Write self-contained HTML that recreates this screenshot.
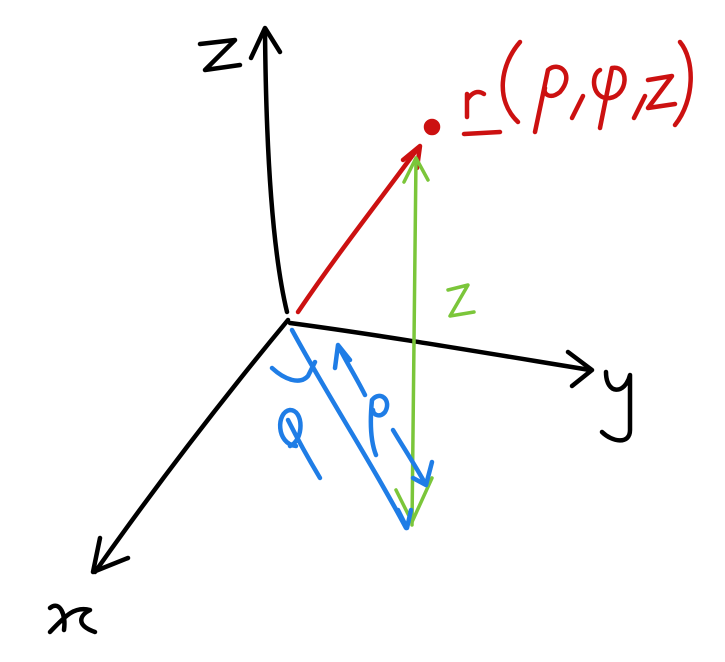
<!DOCTYPE html>
<html><head><meta charset="utf-8"><style>
html,body{margin:0;padding:0;background:#fff;width:725px;height:662px;overflow:hidden}
svg{display:block}
text{font-family:"Liberation Sans",sans-serif}
</style></head><body>
<svg width="725" height="662" viewBox="0 0 725 662" fill="none" stroke-linecap="round" stroke-linejoin="round">
<g stroke="#000" stroke-width="4.5">
<path d="M287,312 C272,250 266,150 265,30"/>
<path d="M251,58 L265,28 L280,52"/>
<path d="M290,323 C380,335 480,352 590,370"/>
<path d="M568,352 L592,370 L572,386"/>
<path d="M288,320 C230,390 160,480 95,572"/>
<path d="M100,538 L93,572 L128,558"/>
<path d="M200,44 L235,40 L205,70 L240,65"/>
<path d="M606,372 C606,395 625,395 630,375 L630,430 C630,445 612,442 602,432"/>
<path d="M50,608 C60,600 66,615 64,630 M50,632 C66,615 75,606 90,610 C80,615 75,625 95,632"/>
</g>
<g stroke="#cc1111" stroke-width="4.5">
<path d="M298,312 C340,250 380,200 418,148"/>
<path d="M403,160 L420,146 L417,168"/>
<circle cx="432" cy="127" r="6" fill="#cc1111"/>
<path d="M467,117 L467,94 M467,100 C472,92 478,90 484,94"/>
<path d="M464,134 L500,132"/>
<path d="M520,42 C500,65 495,100 518,122"/>
<path d="M535,132 L548,70 C560,60 575,75 560,92 C550,100 543,94 545,88"/>
<path d="M583,96 L572,118"/>
<path d="M600,70 C590,75 592,100 610,98 C628,95 630,65 612,68 L600,128"/>
<path d="M645,96 L634,118"/>
<path d="M648,80 L672,76 L648,108 L675,104"/>
<path d="M680,42 C695,60 695,100 675,125"/>
</g>
<g stroke="#7bc63a" stroke-width="3.5">
<path d="M416,160 C414,280 414,400 412,525"/>
<path d="M404,182 L416,158 L428,180"/>
<path d="M396,490 L412,522 L432,478"/>
<path d="M448,290 L468,285 L450,316 L474,312"/>
</g>
<g stroke="#1f7de6" stroke-width="4.5">
<path d="M292,330 C330,400 370,460 406,528"/>
<path d="M398,510 L407,528 L411,510"/>
<path d="M365,395 C355,375 345,360 338,345 L335,368 M338,345 L350,360"/>
<path d="M393,430 C405,450 415,465 426,485 L432,462 M426,485 L413,478"/>
<path d="M272,368 C285,380 300,385 308,376 L315,362"/>
<path d="M296,446 C276,444 276,412 290,410 C304,410 304,440 290,446 M288,420 C298,440 308,458 320,478"/>
<path d="M376,455 C370,440 370,420 372,400 C380,390 392,400 385,412 C380,418 373,415 373,410"/>
</g>
</svg>
</body></html>
